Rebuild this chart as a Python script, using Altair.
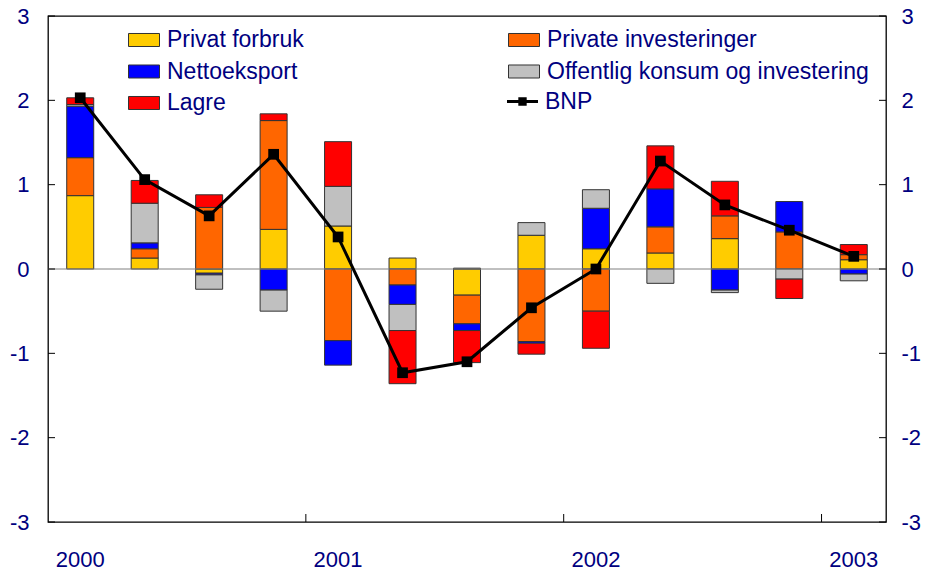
import altair as alt
import pandas as pd

quarters = ["2000K1", "2000K2", "2000K3", "2000K4",
            "2001K1", "2001K2", "2001K3", "2001K4",
            "2002K1", "2002K2", "2002K3", "2002K4",
            "2003K1"]
series_names = ["Privat forbruk", "Private investeringer", "Nettoeksport",
                "Offentlig konsum og investering", "Lagre"]
privat_forbruk = [0.87, 0.13, -0.05, 0.47, 0.51, 0.13, -0.31, 0.40, 0.24, 0.19, 0.36, 0.00, 0.11]
private_investeringer = [0.45, 0.11, 0.73, 1.29, -0.85, -0.19, -0.34, -0.86, -0.50, 0.31, 0.27, 0.44, 0.06]
nettoeksport = [0.61, 0.07, -0.02, -0.25, -0.29, -0.23, -0.08, -0.02, 0.48, 0.45, -0.25, 0.36, -0.06]
offentlig = [0.02, 0.47, -0.17, -0.25, 0.47, -0.31, 0.01, 0.15, 0.22, -0.17, -0.03, -0.12, -0.08]
lagre = [0.08, 0.27, 0.15, 0.08, 0.53, -0.63, -0.38, -0.13, -0.44, 0.51, 0.41, -0.23, 0.12]
bnp = [2.03, 1.06, 0.63, 1.36, 0.38, -1.23, -1.10, -0.46, 0.00, 1.28, 0.76, 0.46, 0.15]
y_ticks = [-3, -2, -1, 0, 1, 2, 3]

colors = ["#FFCC00", "#FF6600", "#0000FF", "#C0C0C0", "#FF0000"]
NAVY = "#000080"
FONT = "Liberation Sans"
W, H = 838, 506

rows = []
for si, (name, vals) in enumerate(zip(series_names, [privat_forbruk, private_investeringer,
                                                     nettoeksport, offentlig, lagre])):
    for q, v in zip(quarters, vals):
        rows.append({"q": q, "series": name, "value": v, "order": si})
bars_df = pd.DataFrame(rows)
bnp_df = pd.DataFrame({"q": quarters, "bnp": bnp, "lbl": "BNP"})
yt_df = pd.DataFrame({"y": y_ticks})
year_df = pd.DataFrame({"q": [q for q in quarters[1:] if q.endswith("K1")]})

RECT = "M-1,-0.42L1,-0.42L1,0.42L-1,0.42Z"
BNP_SYM = "M-1,-0.1L1,-0.1L1,0.1L-1,0.1Z M-0.27,-0.27L0.27,-0.27L0.27,0.27L-0.27,0.27Z"

LEG_X, LEG_Y, ROW_PAD, COL_PAD = 80, 8, 3.5, 202
ROW_STEP = 31

x_scale = alt.Scale(domain=quarters, paddingInner=0, paddingOuter=0)
y_scale = alt.Scale(domain=[-3, 3], nice=False, zero=False)

x_axis = alt.Axis(labelExpr="slice(datum.value, 4) == 'K1' ? slice(datum.value, 0, 4) : ''",
                  ticks=False, tickSize=0, domain=False, grid=False, labelPadding=27,
                  labelAngle=0, title=None, labelFlush=False, labelOverlap=False,
                  labelBound=False)
y_axis_left = alt.Axis(values=y_ticks, labelExpr="'' + datum.value", ticks=False, tickSize=0,
                       domain=False, grid=False, labelPadding=19, title=None, orient="left",
                       labelFlush=False, labelOverlap=False, labelBound=False)
y_axis_right = alt.Axis(values=y_ticks, labelExpr="'' + datum.value", ticks=False, tickSize=0,
                        domain=False, grid=False, labelPadding=15, title=None, orient="right",
                        labelFlush=False, labelOverlap=False, labelBound=False)

common_leg = dict(title=None, orient="none", padding=0, symbolSize=961,
                  labelFontSize=23, labelColor=NAVY, labelFont=FONT, labelLimit=400,
                  labelOffset=7, rowPadding=ROW_PAD)

bars = alt.Chart(bars_df).mark_bar(size=27, stroke="#333333", strokeWidth=1).encode(
    x=alt.X("q:N", scale=x_scale, axis=x_axis, sort=quarters),
    y=alt.Y("value:Q", scale=y_scale, axis=y_axis_left, stack="zero"),
    color=alt.Color("series:N",
                    scale=alt.Scale(domain=series_names, range=colors),
                    legend=alt.Legend(legendX=LEG_X, legendY=LEG_Y, columns=2,
                                      direction="horizontal",
                                      columnPadding=COL_PAD, symbolType=RECT,
                                      symbolStrokeColor="#333333", symbolStrokeWidth=1,
                                      **common_leg)),
    order=alt.Order("order:Q", sort="ascending"),
)

zero = alt.Chart(pd.DataFrame({"y": [0]})).mark_rule(color="#808080", strokeWidth=1).encode(
    y=alt.Y("y:Q", scale=y_scale, axis=None)
)

line = alt.Chart(bnp_df).mark_line(color="black", strokeWidth=3).encode(
    x=alt.X("q:N", scale=x_scale, sort=quarters),
    y=alt.Y("bnp:Q", scale=y_scale, axis=None),
)
points = alt.Chart(bnp_df).mark_square(filled=True, size=115, opacity=1).encode(
    x=alt.X("q:N", scale=x_scale, sort=quarters),
    y=alt.Y("bnp:Q", scale=y_scale, axis=None),
    fill=alt.Fill("lbl:N", scale=alt.Scale(domain=["BNP"], range=["#000000"]),
                  legend=alt.Legend(legendX=459, legendY=LEG_Y + 2 * ROW_STEP,
                                    symbolType=BNP_SYM, symbolStrokeWidth=0, **common_leg)),
)

left_ticks = alt.Chart(yt_df).mark_rule(color="black", strokeWidth=1).encode(
    y=alt.Y("y:Q", scale=y_scale, axis=None),
    x=alt.value(0), x2=alt.value(7),
)
bottom_ticks = alt.Chart(year_df).mark_rule(color="black", strokeWidth=1).encode(
    x=alt.X("q:N", scale=x_scale, bandPosition=0, sort=quarters),
    y=alt.value(H), y2=alt.value(H - 8),
)
right_ticks = alt.Chart(yt_df).mark_rule(color="black", strokeWidth=1).encode(
    y=alt.Y("y:Q", scale=y_scale, axis=y_axis_right),
    x=alt.value(W - 7), x2=alt.value(W),
)

chart = alt.layer(bars, zero, line, points, left_ticks, bottom_ticks, right_ticks).resolve_axis(
    y="independent"
).properties(
    width=W, height=H,
    autosize=alt.AutoSizeParams(type="none"),
    padding={"left": 40, "top": 8, "right": 35, "bottom": 48},
).configure_view(
    stroke="black", strokeWidth=1.3
).configure_axis(
    labelFont=FONT, labelFontSize=22, labelColor=NAVY
)

chart.save("out.html", embed_options={"renderer": "svg", "actions": False})
